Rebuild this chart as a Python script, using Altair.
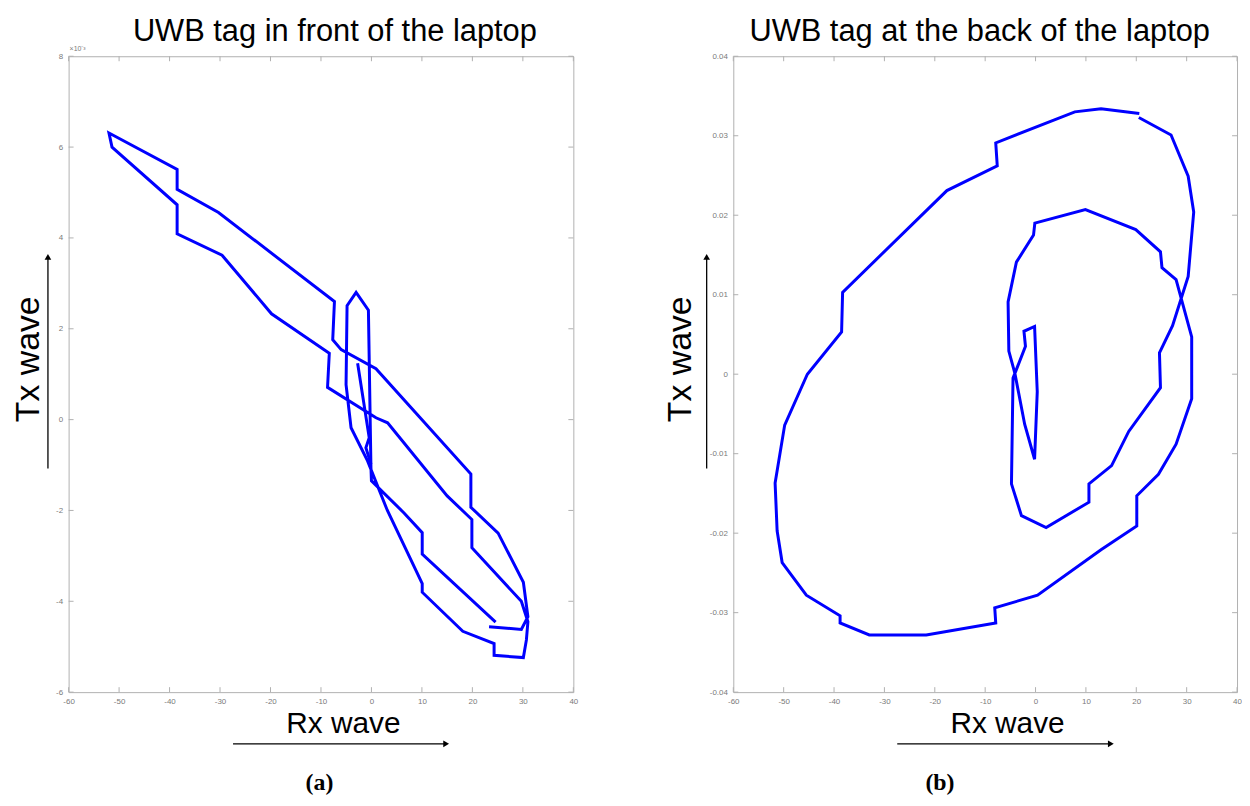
import altair as alt
import pandas as pd

# ---------------- data ----------------
# Panel (a): UWB tag in front of the laptop  (Tx in units of 1e-3)
a_rx = [23.3, 29.7, 31.0, 30.1, 25.1, 19.7, 19.7, 0.9, -6.0, -7.67, -7.33, -30.3, -38.5, -38.5,
        -52.0, -51.4, -38.5, -38.5, -29.6, -19.8, -8.35, -8.7, 0.9, 3.2, 15.0, 19.9, 19.9, 29.7,
        31.0, 30.7, 30.1, 24.3, 24.3, 18.1, 10.06, 10.06, 3.16, -0.77, -4.04, -5.03, -4.83, -3.04,
        -0.6, -0.1, 0.0, 6.5, 10.06, 10.06, 24.6]
a_tx = [-4.56, -4.62, -4.34, -3.58, -2.5, -1.93, -1.2, 1.12, 1.54, 1.76, 2.6, 4.56, 5.07, 5.51,
        6.31, 6.0, 4.73, 4.09, 3.62, 2.33, 1.46, 0.71, 0.04, -0.07, -1.68, -2.2, -2.82, -4.0,
        -4.45, -4.85, -5.24, -5.19, -4.93, -4.66, -3.8, -3.61, -2.0, -0.91, -0.18, 0.77, 2.51, 2.8,
        2.41, -1.05, -1.35, -2.06, -2.49, -2.96, -4.46]
a2_rx = [-2.74, -0.44, -1.1, -0.1]
a2_tx = [1.24, -0.40, -0.62, -0.98]

# Panel (b): UWB tag at the back of the laptop
b_rx = [20.6, 13.0, 7.8, -7.9, -7.6, -17.6, -38.3, -38.5, -45.3, -49.8, -51.7, -51.3, -50.3, -45.5,
        -38.8, -38.8, -33.0, -21.7, -7.9, -8.1, 0.4, 13.0, 20.1, 20.1, 24.4, 27.9, 31.0, 31.0, 27.9,
        25.1, 24.8, 19.9, 9.9, -0.14, -0.4, -3.8, -5.45, -5.3, -4.1, -2.16, -0.19, 0.34, -0.19, -2.3,
        -2.0, -4.47, -4.78, -2.8, 2.1, 10.6, 10.6, 15.1, 18.5, 24.8, 24.6, 27.2, 30.3, 31.4, 30.3,
        26.9, 20.5]
b_tx = [0.0328, 0.0334, 0.0330, 0.0291, 0.0262, 0.0231, 0.0103, 0.0053, 0.0, -0.0064, -0.0137,
        -0.0197, -0.0237, -0.0278, -0.0304, -0.0313, -0.0328, -0.0328, -0.0313, -0.0294, -0.0278,
        -0.0221, -0.0191, -0.0153, -0.0126, -0.0088, -0.0031, 0.0047, 0.0119, 0.0134, 0.0154,
        0.0182, 0.0207, 0.0190, 0.0175, 0.0141, 0.0091, 0.0029, 0.0001, -0.0063, -0.0107, -0.0022,
        0.0060, 0.0054, 0.0035, -0.0005, -0.0138, -0.0178, -0.0193, -0.0161, -0.0138, -0.0115,
        -0.0072, -0.0017, 0.0027, 0.0061, 0.0123, 0.0204, 0.0249, 0.0301, 0.0323]

x_ticks = [-60, -50, -40, -30, -20, -10, 0, 10, 20, 30, 40]
a_yticks = [-6, -4, -2, 0, 2, 4, 6, 8]
b_yticks = [-0.04, -0.03, -0.02, -0.01, 0, 0.01, 0.02, 0.03, 0.04]

titles = ["UWB tag in front of the laptop", "UWB tag at the back of the laptop"]
captions = ["(a)", "(b)"]
x_label = "Rx wave"
y_label = "Tx wave"

# ---------------- styling ----------------
BLUE = "#0000ff"
FRAME = "#b0b0b0"
LABEL = "#7a7a7a"
FONT = "Liberation Sans"
H = 640


def build_df(segments):
    rows = []
    for s, (xs, ys) in enumerate(segments):
        for i, (x, y) in enumerate(zip(xs, ys)):
            rows.append({"rx": x, "tx": y, "seg": s, "i": i})
    return pd.DataFrame(rows)


def one(text):
    return pd.DataFrame({"t": [text]})


def panel(df, yticks, ydom, yfmt, W, title, title_x, caption, cap_x, ty_x, yarrow_x,
          rx_x, xarrow, anchor=False, exponent=False):
    xs = alt.Scale(domain=[-60, 40], nice=False, zero=False)
    ys = alt.Scale(domain=ydom, nice=False, zero=False)
    xaxis = alt.Axis(values=x_ticks, ticks=False, domain=False, grid=False, title=None,
                     labelFontSize=8, labelColor=LABEL, labelFont=FONT, labelPadding=5,
                     labelFlush=False, labelOverlap=False,
                     labelExpr="replace(format(datum.value, 'd'), '\u2212', '-')")
    yaxis = alt.Axis(values=yticks, ticks=False, domain=False, grid=False, title=None,
                     labelFontSize=8, labelColor=LABEL, labelFont=FONT, labelPadding=6,
                     labelFlush=False, labelOverlap=False,
                     labelExpr="replace(format(datum.value, '" + yfmt + "'), '\u2212', '-')")
    X = lambda f: alt.X(f, scale=xs, axis=xaxis)
    Y = lambda f: alt.Y(f, scale=ys, axis=yaxis)

    line = alt.Chart(df).mark_line(color=BLUE, strokeWidth=3).encode(
        x=X("rx:Q"), y=Y("tx:Q"), detail="seg:N", order="i:Q")

    xdf = pd.DataFrame({"v": x_ticks})
    ydf = pd.DataFrame({"v": yticks})
    rule = dict(color=FRAME, strokeWidth=1)
    t_bottom = alt.Chart(xdf).mark_rule(**rule).encode(x=X("v:Q"), y=alt.value(H), y2=alt.value(H - 5))
    t_top = alt.Chart(xdf).mark_rule(**rule).encode(x=X("v:Q"), y=alt.value(0), y2=alt.value(5))
    t_left = alt.Chart(ydf).mark_rule(**rule).encode(y=Y("v:Q"), x=alt.value(0), x2=alt.value(5))
    t_right = alt.Chart(ydf).mark_rule(**rule).encode(y=Y("v:Q"), x=alt.value(W), x2=alt.value(W - 5))

    ttl = alt.Chart(one(title)).mark_text(fontSize=31, font=FONT, baseline="alphabetic",
                                          align="center", color="black").encode(
        text="t:N", x=alt.value(title_x), y=alt.value(-15))
    xlab = alt.Chart(one(x_label)).mark_text(fontSize=30, font=FONT, baseline="alphabetic",
                                             align="center", color="black").encode(
        text="t:N", x=alt.value(rx_x), y=alt.value(681))
    ylab = alt.Chart(one(y_label)).mark_text(fontSize=34, font=FONT, baseline="alphabetic",
                                             align="center", angle=270, color="black").encode(
        text="t:N", x=alt.value(ty_x), y=alt.value(305))
    cap = alt.Chart(one(caption)).mark_text(fontSize=24, font="Liberation Serif", fontWeight="bold",
                                            baseline="alphabetic", align="center",
                                            color="black").encode(
        text="t:N", x=alt.value(cap_x), y=alt.value(739))

    arr_df = one("")
    xa = alt.Chart(arr_df).mark_rule(color="black", strokeWidth=1.3).encode(
        x=alt.value(xarrow[0]), x2=alt.value(xarrow[1] - 4), y=alt.value(692))
    xa_head = alt.Chart(arr_df).mark_point(shape="triangle-right", filled=True, color="black",
                                           opacity=1, size=45).encode(
        x=alt.value(xarrow[1] - 3), y=alt.value(692))
    ya = alt.Chart(arr_df).mark_rule(color="black", strokeWidth=1.3).encode(
        x=alt.value(yarrow_x), y=alt.value(203), y2=alt.value(415))
    ya_head = alt.Chart(arr_df).mark_point(shape="triangle-up", filled=True, color="black",
                                           opacity=1, size=45).encode(
        x=alt.value(yarrow_x), y=alt.value(202))

    layers = [t_bottom, t_top, t_left, t_right, line, ttl, xlab, ylab, cap, xa, xa_head, ya, ya_head]
    if exponent:
        layers.append(alt.Chart(one("\u00d710\u207b\u00b3")).mark_text(
            fontSize=7, font=FONT, color=LABEL, align="left", baseline="alphabetic").encode(
            text="t:N", x=alt.value(1), y=alt.value(-5)))
    if anchor:
        layers.append(alt.Chart(arr_df).mark_rule(color="white", strokeWidth=1).encode(
            x=alt.value(-59.5), y=alt.value(-45), y2=alt.value(-44)))
    return alt.layer(*layers).properties(width=W, height=H)


df_a = build_df([(a_rx, a_tx), (a2_rx, a2_tx)])
df_b = build_df([(b_rx, b_tx)])

left = panel(df_a, a_yticks, [-6, 8], "d", 508, titles[0], 268, captions[0], 252.5,
             -29.8, -20.8, 276.5, (165.5, 383), anchor=True, exponent=True)
right = panel(df_b, b_yticks, [-0.04, 0.04], ".2~f", 507, titles[1], 248, captions[1], 208,
              -43, -26.8, 276, (165, 383))

chart = alt.hconcat(left, right, spacing=161, bounds="flush").properties(
    padding=0, background="white"
).configure_view(stroke=FRAME, strokeWidth=1)

chart.save("out.html", embed_options={"renderer": "svg", "actions": False})
